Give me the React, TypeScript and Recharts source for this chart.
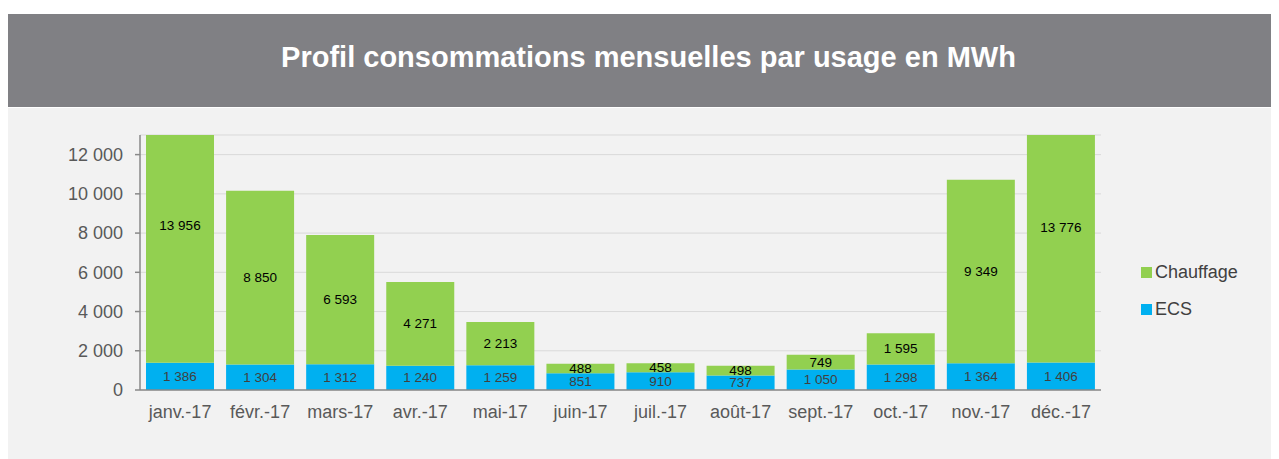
import { BarChart, Bar, XAxis, YAxis, CartesianGrid, Legend, LabelList } from "recharts";

const months = [
  "janv.-17", "févr.-17", "mars-17", "avr.-17", "mai-17", "juin-17",
  "juil.-17", "août-17", "sept.-17", "oct.-17", "nov.-17", "déc.-17",
];
const ecs = [1386, 1304, 1312, 1240, 1259, 851, 910, 737, 1050, 1298, 1364, 1406];
const chauffage = [13956, 8850, 6593, 4271, 2213, 488, 458, 498, 749, 1595, 9349, 13776];
const yTicks = [0, 2000, 4000, 6000, 8000, 10000, 12000];
const boundaryTicks = [0, 1, 2, 3, 4, 5, 6, 7, 8, 9, 10, 11, 12];

const GREEN = "#92d050";
const BLUE = "#00b0f0";
const FONT = "'Liberation Sans', Arial, sans-serif";

const CHART_H = 351;
const MARGIN = { top: 27, right: 170, left: 0, bottom: 39 };
const X_AXIS_H = 30;
const Y_MAX = 13000;
// pixels per MWh, used to centre labels on bars that run past the top of the axis
const PPU = (CHART_H - MARGIN.top - MARGIN.bottom - X_AXIS_H) / Y_MAX;

const fmt = (v: any) => String(v).replace(/\B(?=(\d{3})+(?!\d))/g, " ");

const data = months.map((m, i) => ({ mois: m, ECS: ecs[i], Chauffage: chauffage[i] }));

function makeLabel(color: string) {
  return (props: any) => {
    const { x, y, width, height, value } = props;
    const bottom = y + height;
    const cy = bottom - (value * PPU) / 2;
    return (
      <text
        x={x + width / 2}
        y={cy}
        textAnchor="middle"
        dominantBaseline="central"
        fill={color}
        fontSize={13.5}
        fontFamily={FONT}
      >
        {fmt(value)}
      </text>
    );
  };
}

function LegendBox() {
  const items = [
    { name: "Chauffage", color: GREEN },
    { name: "ECS", color: BLUE },
  ];
  return (
    <div style={{ fontFamily: FONT, fontSize: 18, color: "#404040" }}>
      {items.map((it) => (
        <div key={it.name} style={{ display: "flex", alignItems: "center", height: 20, marginBottom: 17 }}>
          <span style={{ width: 11, height: 11, background: it.color, marginRight: 3, display: "inline-block" }} />
          <span>{it.name}</span>
        </div>
      ))}
    </div>
  );
}

export default function App() {
  return (
    <div style={{ paddingTop: 6, width: 1263, fontFamily: FONT }}>
      <div
        style={{
          height: 93,
          boxSizing: "border-box",
          paddingLeft: 18,
          paddingBottom: 6,
          background: "#808084",
          color: "#fff",
          fontWeight: "bold",
          fontSize: 29,
          display: "flex",
          alignItems: "center",
          justifyContent: "center",
        }}
      >
        Profil consommations mensuelles par usage en MWh
      </div>
      <div style={{ marginTop: 1, height: CHART_H, background: "#f2f2f2" }}>
        <BarChart
          width={1263}
          height={CHART_H}
          data={data}
          margin={MARGIN}
          barCategoryGap="7.5%"
        >
          <CartesianGrid vertical={false} stroke="#d9d9d9" />
          <XAxis
            xAxisId="b"
            type="number"
            domain={[0, 12]}
            ticks={boundaryTicks}
            height={0}
            axisLine={false}
            tick={{ fill: "transparent", fontSize: 1 }}
            tickLine={{ stroke: "#898989", strokeWidth: 1.5 }}
            tickSize={5}
          />
          <XAxis
            dataKey="mois"
            height={X_AXIS_H}
            tickLine={false}
            axisLine={{ stroke: "#898989", strokeWidth: 1.5 }}
            tick={{ fill: "#595959", fontSize: 18, fontFamily: FONT }}
            tickMargin={9}
            interval={0}
          />
          <YAxis
            width={132}
            domain={[0, Y_MAX]}
            ticks={yTicks}
            allowDataOverflow
            tickFormatter={fmt}
            axisLine={{ stroke: "#898989", strokeWidth: 1.5 }}
            tickLine={{ stroke: "#898989", strokeWidth: 1.5 }}
            tickSize={5}
            tickMargin={12}
            tick={{ fill: "#595959", fontSize: 18, fontFamily: FONT }}
          />
          <Legend
            layout="vertical"
            align="center"
            verticalAlign="middle"
            wrapperStyle={{ left: 1133, top: 154, width: 130 }}
            content={() => <LegendBox />}
          />
          <Bar dataKey="ECS" stackId="a" fill={BLUE} isAnimationActive={false}>
            <LabelList dataKey="ECS" content={makeLabel("#404040")} />
          </Bar>
          <Bar dataKey="Chauffage" stackId="a" fill={GREEN} isAnimationActive={false}>
            <LabelList dataKey="Chauffage" content={makeLabel("#000")} />
          </Bar>
        </BarChart>
      </div>
    </div>
  );
}
